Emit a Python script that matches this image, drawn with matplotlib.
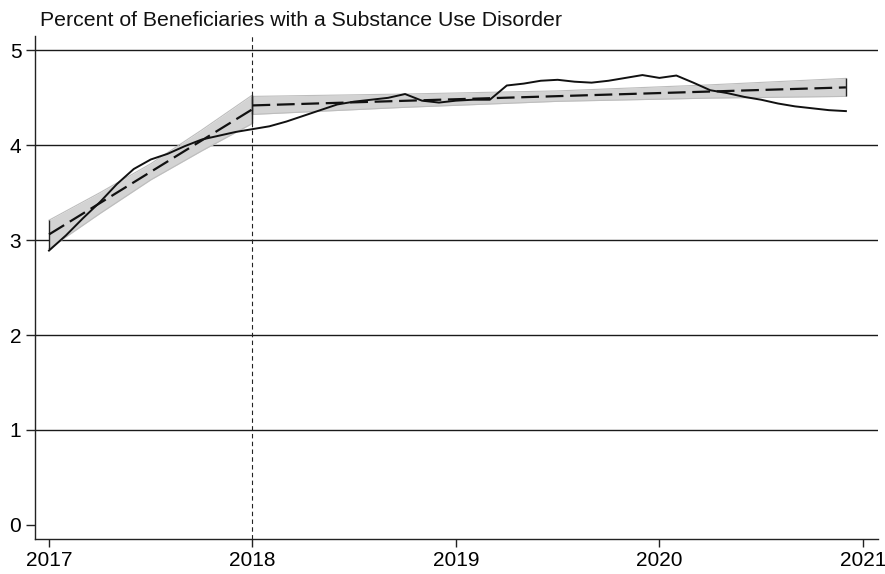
import numpy as np
import matplotlib
matplotlib.use("Agg")
import matplotlib.pyplot as plt

plt.rcParams['font.family'] = ['Liberation Sans', 'DejaVu Sans']

# Monthly share of beneficiaries with a SUD diagnosis, Jan 2017 - Dec 2020
start_year = 2017
sud_pct = [2.89, 3.05, 3.23, 3.40, 3.59, 3.75, 3.85, 3.91, 3.99, 4.06, 4.10, 4.14,
           4.17, 4.20, 4.25, 4.31, 4.37, 4.43, 4.46, 4.48, 4.50, 4.54, 4.47, 4.45,
           4.47, 4.48, 4.48, 4.63, 4.65, 4.68, 4.69, 4.67, 4.66, 4.68, 4.71, 4.74,
           4.71, 4.735, 4.66, 4.58, 4.55, 4.51, 4.48, 4.44, 4.41, 4.39, 4.37, 4.36]

# Segmented trend fits (month index from Jan 2017) with confidence bands
pre_months = [0, 12]
pre_fit = [3.06, 4.38]
pre_band_months = [0, 3, 6, 9, 12]
pre_band_lo = [2.91, 3.28, 3.635, 3.94, 4.23]
pre_band_hi = [3.21, 3.50, 3.805, 4.16, 4.53]

post_months = [12, 47]
post_fit = [4.42, 4.61]
post_band_months = [12, 21, 30, 39, 47]
post_band_lo = [4.325, 4.40, 4.463, 4.497, 4.515]
post_band_hi = [4.515, 4.54, 4.573, 4.637, 4.705]

break_year = 2018
year_ticks = [2017, 2018, 2019, 2020, 2021]
pct_ticks = [0, 1, 2, 3, 4, 5]


def to_year(months):
    return start_year + np.asarray(months) / 12.0


fig = plt.figure(figsize=(8.85, 5.74), dpi=100)
ax = fig.add_axes([0.0395, 0.061, 0.9525, 0.876])

# horizontal grid
for v in pct_ticks[1:]:
    ax.axhline(v, color='#1a1a1a', lw=1.0, zorder=1)

# confidence bands
for bm, lo, hi in [(pre_band_months, pre_band_lo, pre_band_hi),
                   (post_band_months, post_band_lo, post_band_hi)]:
    bx = to_year(bm)
    ax.fill_between(bx, lo, hi, color='#d3d3d3', lw=0, zorder=2)
    ax.plot(bx, lo, color='#bdbdbd', lw=0.8, zorder=2)
    ax.plot(bx, hi, color='#bdbdbd', lw=0.8, zorder=2)
    ax.vlines([bx[0], bx[-1]], [lo[0], lo[-1]], [hi[0], hi[-1]],
              color='#222222', lw=1.0, zorder=3)

ax.axvline(break_year, color='#222222', lw=0.8, ls=(0, (4, 3)), zorder=3)

# fitted trends
for fm, fv in [(pre_months, pre_fit), (post_months, post_fit)]:
    ax.plot(to_year(fm), fv, color='#111111', lw=1.6, dashes=(8, 3), zorder=4)

months = np.arange(len(sud_pct))
ax.plot(to_year(months), sud_pct, color='#111111', lw=1.4, zorder=5)

ax.set_xlim(2016.931, 2021.074)
ax.set_ylim(-0.15, 5.15)
ax.set_xticks(year_ticks)
ax.set_yticks(pct_ticks)
ax.tick_params(axis='both', direction='out', width=1.0,
               labelsize=15, color='#222222')
ax.tick_params(axis='x', length=5.8, pad=3)
ax.tick_params(axis='y', length=6.3, pad=3.5)

for side in ['top', 'right']:
    ax.spines[side].set_visible(False)
for side in ['left', 'bottom']:
    ax.spines[side].set_linewidth(1.0)
    ax.spines[side].set_color('#222222')

fig.text(40 / 885, 1 - 20 / 574, "Percent of Beneficiaries with a Substance Use Disorder",
         fontsize=15.3, va='center', ha='left', color='#111111')

fig.savefig("out.png", dpi=100)
